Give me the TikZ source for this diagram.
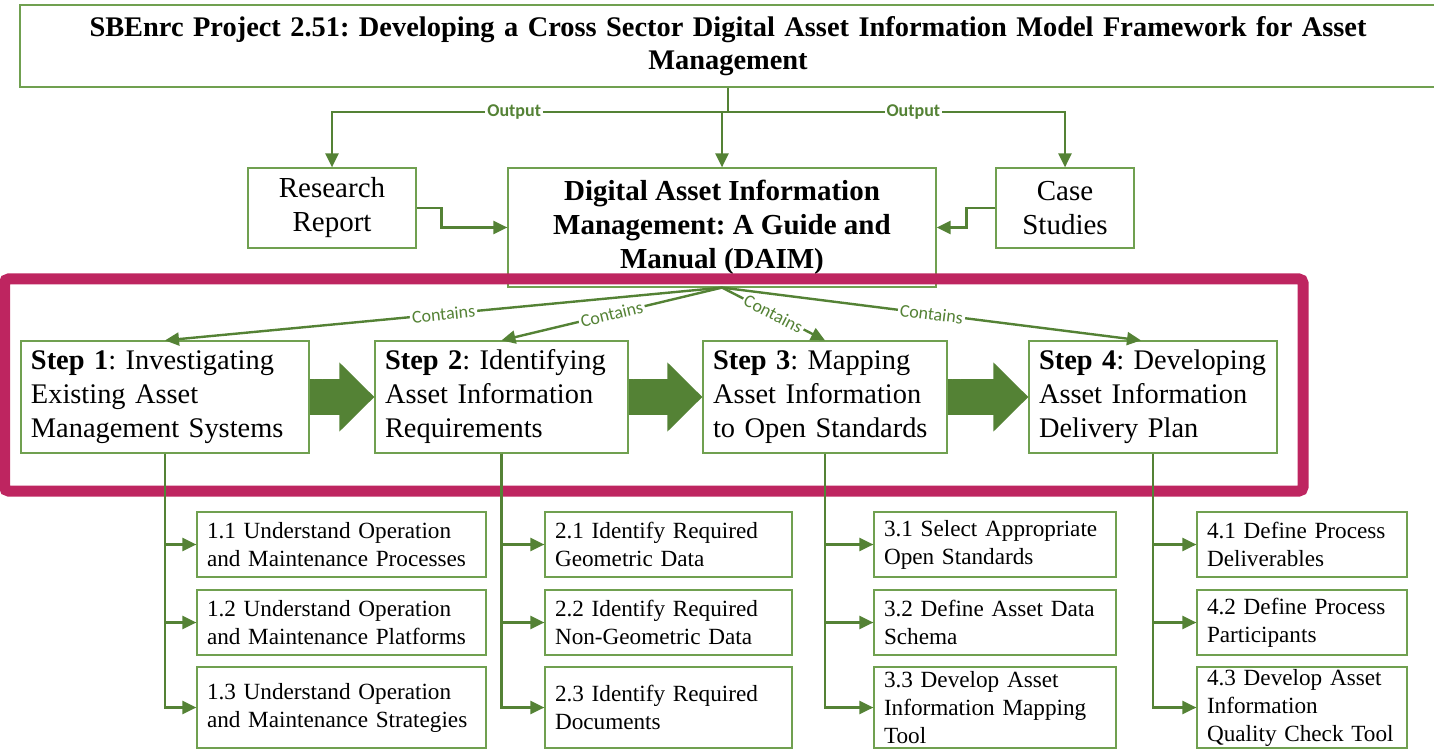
\documentclass[tikz,border=0pt]{standalone}
\usepackage{fontspec}
\setmainfont{Liberation Serif}
\newfontfamily\labelfont{Carlito}
\usetikzlibrary{arrows.meta}
\frenchspacing

\definecolor{linegreen}{RGB}{84,130,53}
\definecolor{boxgreen}{RGB}{112,160,80}
\definecolor{framered}{RGB}{190,37,96}

\tikzset{
  box/.style={draw=boxgreen, line width=0.6pt, fill=white, inner xsep=5pt, inner ysep=0pt},
  conn/.style={draw=linegreen, line width=1.2pt, -{Triangle[length=7pt,width=6.5pt]}},
  lab/.style={fill=white, text=linegreen, inner sep=1pt, font=\labelfont\fontsize{9}{10}\selectfont},
  stepbox/.style={box, align=left, minimum height=56pt, font=\fontsize{14.2}{17}\selectfont},
  subbox/.style={box, align=left, font=\fontsize{11.6}{14}\selectfont},
  bigarrow/.style={draw=linegreen, line width=17.5pt, -{Triangle[length=17.5pt,width=33.5pt]}},
}

\begin{document}
\begin{tikzpicture}[x=0.5pt, y=-0.5pt]
  \useasboundingbox (0,0) rectangle (1434,753);

  % Titolo del progetto
  \node[box, minimum width=708pt, minimum height=41pt, align=center, text width=690pt,
        font=\fontsize{14.2}{16.5}\selectfont\bfseries] (title) at (728,46)
    {SBEnrc Project 2.51: Developing a Cross Sector Digital Asset Information Model Framework for Asset\\Management};

  % Output del progetto
  \node[box, minimum width=84pt, minimum height=40pt, align=center, font=\fontsize{14.5}{17}\selectfont] (rr) at (332,208) {Research\\Report};
  \node[box, minimum width=214pt, minimum height=59.5pt, align=center, font=\fontsize{14.5}{17}\selectfont\bfseries] (daim) at (722,227.5)
    {Digital Asset Information\\Management: A Guide and\\Manual (DAIM)};
  \node[box, minimum width=69pt, minimum height=40pt, align=center, font=\fontsize{14.5}{17}\selectfont] (cs) at (1065,208) {Case\\Studies};

  \coordinate (bus) at (727,112);
  \draw[conn] (title.south) -- (title.south |- bus) -- node[lab, pos=0.54] {\bfseries Output} (rr.north |- bus) -- (rr.north);
  \draw[conn] (title.south |- bus) -- node[lab, pos=0.55] {\bfseries Output} (cs.north |- bus) -- (cs.north);
  \draw[conn] (title.south |- bus) -| (daim.north);
  \draw[conn] (rr.east) -- ++(25,0) |- (daim.west);
  \draw[conn] (cs.west) -- ++(-29,0) |- (daim.east);

  % Cornice dei quattro step
  \draw[framered, line width=5.5pt, rounded corners=2pt] (4.5,279) rectangle (1303,491);

  % Step
  \node[stepbox, minimum width=144pt, text width=134pt] (s1) at (165,397)
    {\textbf{Step 1}: Investigating\\Existing Asset\\Management Systems};
  \node[stepbox, minimum width=126.5pt, text width=116.5pt] (s2) at (501.5,397)
    {\textbf{Step 2}: Identifying\\Asset Information\\Requirements};
  \node[stepbox, minimum width=122pt, text width=112pt] (s3) at (825,397)
    {\textbf{Step 3}: Mapping\\Asset Information\\to Open Standards};
  \node[stepbox, minimum width=124pt, text width=114pt] (s4) at (1153,397)
    {\textbf{Step 4}: Developing\\Asset Information\\Delivery Plan};

  % Frecce "Contains"
  \draw[conn] (daim.south) -- node[lab, sloped] {Contains} (s1.north);
  \draw[conn] (daim.south) -- node[lab, sloped] {Contains} (s2.north);
  \draw[conn] (daim.south) -- node[lab, sloped] {Contains} (s3.north);
  \draw[conn] (daim.south) -- node[lab, sloped] {Contains} ([xshift=-6pt]s4.north);

  % Frecce grandi tra gli step
  \foreach \a/\b in {s1/s2, s2/s3, s3/s4} {
    \draw[bigarrow] (\a.east) -- (\b.west);
    \draw[white, line width=0.5pt] ([xshift=2.25pt, yshift=8.75pt]\a.east) -- ++(0,-35);
    \draw[white, line width=0.5pt] ([xshift=6.5pt, yshift=8.75pt]\a.east) -- ++(0,-35);
  }

  % Sotto-attivita
  \node[subbox, minimum width=144.5pt, minimum height=32.5pt, text width=134.5pt] (b11) at (341.5,544.5) {1.1 Understand Operation\\and Maintenance Processes};
  \node[subbox, minimum width=144.5pt, minimum height=32.5pt, text width=134.5pt] (b12) at (341.5,622.5) {1.2 Understand Operation\\and Maintenance Platforms};
  \node[subbox, minimum width=144.5pt, minimum height=40.5pt, text width=134.5pt] (b13) at (341.5,707.5) {1.3 Understand Operation\\and Maintenance Strategies};

  \node[subbox, minimum width=123.5pt, minimum height=32.5pt, text width=113.5pt] (b21) at (668.5,544.5) {2.1 Identify Required\\Geometric Data};
  \node[subbox, minimum width=123.5pt, minimum height=32.5pt, text width=113.5pt] (b22) at (668.5,622.5) {2.2 Identify Required\\Non-Geometric Data};
  \node[subbox, minimum width=123.5pt, minimum height=40.5pt, text width=113.5pt] (b23) at (668.5,707.5) {2.3 Identify Required\\Documents};

  \node[subbox, minimum width=121pt, minimum height=32.5pt, text width=111pt] (b31) at (995,544.5) {3.1 Select Appropriate\\Open Standards};
  \node[subbox, minimum width=121pt, minimum height=32.5pt, text width=111pt] (b32) at (995,622.5) {3.2 Define Asset Data\\Schema};
  \node[subbox, minimum width=121pt, minimum height=40.5pt, text width=111pt] (b33) at (995,707.5) {3.3 Develop Asset\\Information Mapping\\Tool};

  \node[subbox, minimum width=105pt, minimum height=32.5pt, text width=95pt] (b41) at (1302,544.5) {4.1 Define Process\\Deliverables};
  \node[subbox, minimum width=105pt, minimum height=32.5pt, text width=95pt] (b42) at (1302,622.5) {4.2 Define Process\\Participants};
  \node[subbox, minimum width=105pt, minimum height=40.5pt, text width=95pt] (b43) at (1302,707.5) {4.3 Develop Asset\\Information\\Quality Check Tool};

  \foreach \s in {1,...,4}
    \foreach \i in {1,2,3}
      \draw[conn] (s\s.south) |- (b\s\i.west);
\end{tikzpicture}
\end{document}
